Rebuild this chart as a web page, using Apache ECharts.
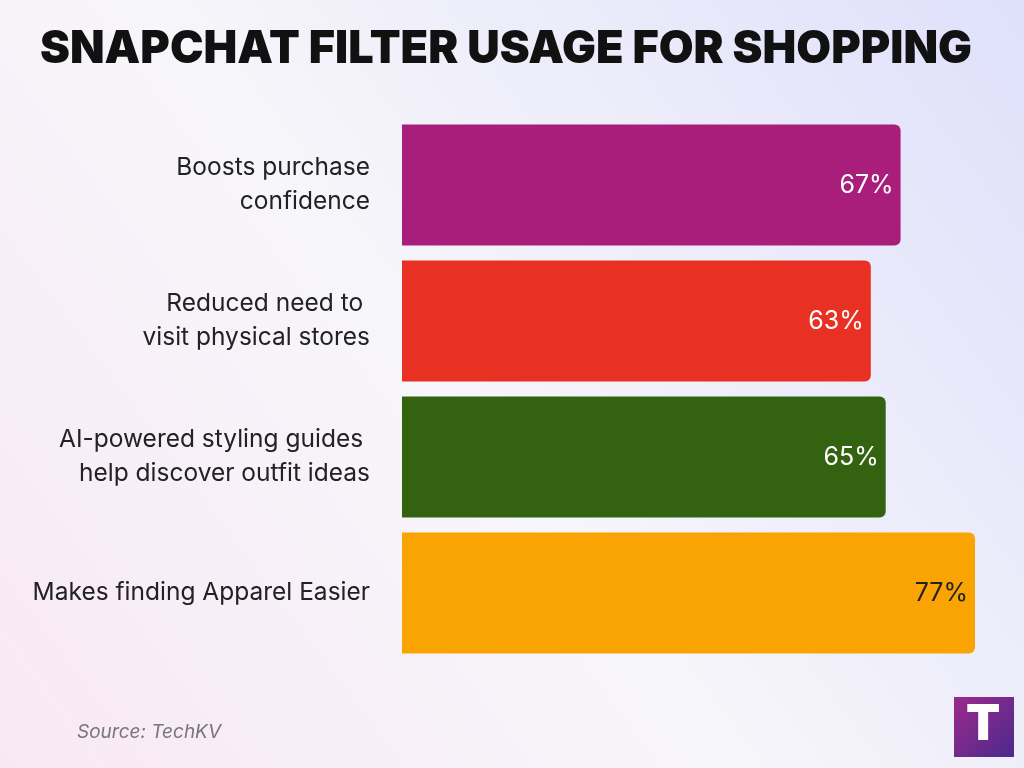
<!DOCTYPE html>
<html>
<head>
<meta charset="utf-8">
<script src="https://cdn.jsdelivr.net/npm/echarts@6/dist/echarts.min.js"></script>
<style>
  html, body { margin: 0; padding: 0; }
  #chart { width: 1024px; height: 768px; }
</style>
</head>
<body>
<div id="chart"></div>
<script>
  var categories = [
    'Boosts purchase\nconfidence',
    'Reduced need to \nvisit physical stores',
    'AI-powered styling guides \nhelp discover outfit ideas',
    'Makes finding Apparel Easier'
  ];
  var values = [67, 63, 65, 77];
  var barColors = ['#a91e7a', '#e83122', '#336311', '#f9a402'];
  var labelColors = ['#ffffff', '#ffffff', '#ffffff', '#222222'];

  var chart = echarts.init(document.getElementById('chart'));
  var option = {
    backgroundColor: {
      type: 'linear', x: 0, y: 1, x2: 1, y2: 0,
      colorStops: [
        { offset: 0, color: '#f8e8f6' },
        { offset: 0.45, color: '#f7f6fa' },
        { offset: 1, color: '#dfe0fb' }
      ]
    },
    title: {
      text: 'SNAPCHAT FILTER USAGE FOR SHOPPING',
      left: 35,
      top: 22,
      textStyle: {
        fontFamily: 'Inter',
        fontWeight: 900,
        fontSize: 45,
        color: '#111111'
      }
    },
    grid: { left: 402, right: 49, top: 117, bottom: 107 },
    xAxis: {
      type: 'value',
      min: 0,
      max: 77,
      show: false
    },
    yAxis: {
      type: 'category',
      inverse: true,
      data: categories,
      axisLine: { show: false },
      axisTick: { show: false },
      axisLabel: {
        margin: 32,
        fontFamily: 'Inter',
        fontSize: 24.5,
        lineHeight: 34,
        color: '#222222',
        align: 'right'
      }
    },
    series: [{
      type: 'bar',
      barWidth: 121,
      data: values.map(function (v, i) {
        return {
          value: v,
          itemStyle: { color: barColors[i], borderRadius: [0, 6, 6, 0] },
          label: { color: labelColors[i] }
        };
      }),
      label: {
        show: true,
        position: 'insideRight',
        distance: 7,
        fontFamily: 'Inter',
        fontSize: 25,
        formatter: '{c}%'
      }
    }],
    graphic: [
      {
        type: 'text',
        left: 77,
        top: 723,
        style: {
          text: 'Source: TechKV',
          fontFamily: 'Inter',
          fontStyle: 'italic',
          fontSize: 19,
          fill: '#777777'
        }
      },
      {
        type: 'rect',
        left: 954,
        top: 697,
        shape: { width: 60, height: 60 },
        style: {
          fill: {
            type: 'linear', x: 0, y: 0, x2: 1, y2: 1,
            colorStops: [
              { offset: 0, color: '#9b2a8c' },
              { offset: 1, color: '#4b2a8c' }
            ]
          }
        }
      },
      {
        type: 'text',
        left: 966,
        top: 700,
        style: {
          text: 'T',
          fontFamily: 'Inter',
          fontWeight: 900,
          fontSize: 50,
          fill: '#ffffff'
        }
      }
    ]
  };
  chart.setOption(option);
</script>
</body>
</html>
